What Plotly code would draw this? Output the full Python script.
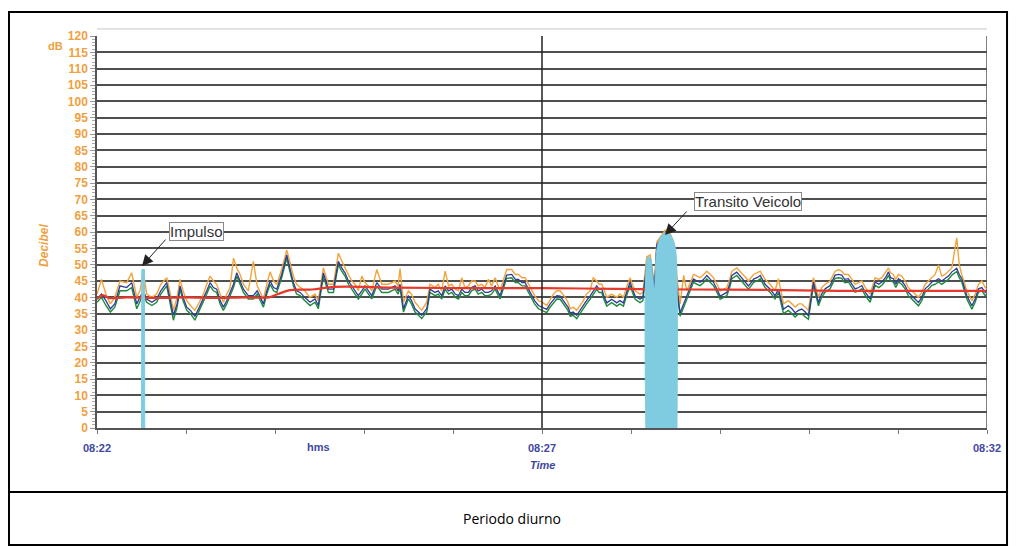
import plotly.graph_objects as go

# ---------------- data (seconds after 08:22:00) ----------------
T = [0,3,6,9,12,15.5,20,23.4,26.8,29,
     31.2,33.5,37,40.2,43,47,49,51.5,54,56,
     58,60.5,63,66,69,71.7,74,76.2,78.5,80.7,
     83,85.2,87.5,89.7,92,94.2,96.5,98.7,102,105.4,
     108,112.2,114.5,116.7,119,121.2,124.5,127.9,130,132.4,
     134.5,136.9,140,143.6,147,149.2,152.6,156,159.4,162.7,
     165,167.2,169.5,171.7,174,176.2,178.5,180.7,183,185.2,
     188.6,192,196.4,200.9,203,204.3,206.6,209.9,212,214.4,
     218.9,222.3,224.5,227.9,230,232.4,234.7,237,239.2,241.5,
     243.7,245.9,248,250.4,252.5,254.9,257,259.4,261.5,263.9,
     266,268.4,271.7,274,276.2,279.6,282,284.1,286.5,288.6,
     291,293.1,295,297.6,300,303.2,305.5,307.7,310,312.2,
     315.6,317.5,319,321,323.4,325.5,327.9,330,332.4,334.5,
     336.9,338.5,340.3,342,343.7,347,350.4,352.5,354.9,357,
     359.4,361,362.8,366.1,368,370.6,372.9,375.8,377.4,380.7,
     383,385.2,388.6,390.9,393.1,395.5,397.6,400,402.1,404.5,
     406.6,409,411.1,413.5,415.6,418,420.1,422.5,424.6,426.5,
     428,431.3,433.5,435.8,437.5,439.2,441,442.6,445,447.1,
     450.4,453.8,457.1,459.4,462.8,466.1,468.5,470.6,473,475.1,
     477.5,479.6,483,486.4,488.5,490.9,494.2,497.6,500,502.1,
     504,506.6,509,511.1,513.5,515.6,518,521.2,524.6,527,
     529.1,531.5,533.6,535,536.9,538.5,540.3,542.5,544.8,547,
     549.3,551.5,553.8,556,558.3,560.5,562.8,565,567.3,569.5,
     571.8,574,576.3,579.6,581.3,583,586.4,589.8,592,594.3,
     596.5,598.8,600]

BLUE = [39.5,41,39,36.5,38,43.5,43,44.5,38,40,
        42,39.5,38.5,39.5,42,44.5,40,34.5,38,43.5,
        40,37,36,34.2,37,39.5,42,44.5,43,42.5,
        39,37,39,41.5,44,47.5,45,42.5,40.5,40.5,
        42,38,42,45,43,42.5,47,53,49,44.5,
        42,41.5,40,38.5,39.5,37.5,47.5,42.5,42.5,51,
        49,47.5,45,43.5,42,40.5,42,43.5,42,40.5,
        44.5,42.5,42.5,43.5,42,44,36.5,40.5,39,36.5,
        34.5,36.5,42.5,41.5,42,40.5,43.5,42,42.5,41,
        40.5,42.5,41.5,41.5,43,43.5,42,42.5,41.5,41.5,
        42,43.5,40.5,44,46.8,47,45.5,45.5,44.5,44.5,
        42.5,40.5,39,37.5,37,36.3,38,39.4,40.5,40.4,
        38.3,37,35.2,35.5,34.5,36,37.3,39,40.4,42,
        43.5,42.5,42.5,40,38.3,39.4,38.3,39,38.3,41.5,
        44.6,42.5,40.4,39.4,40,50,52,42.5,56,58.5,
        59.5,60,55,43,35.2,38,40.4,43,45.6,45,
        44.6,45.5,46.7,45.5,44.6,42.5,40.4,41,41.5,44,
        46.7,47.7,46.5,45.6,44.5,43.5,44.5,45.6,46,46.7,
        44,42.5,40.5,42.5,36.4,37.4,36.5,35.3,36,36.4,
        35.5,34.3,44.7,38.4,41,42.6,43.6,46.8,47,46.8,
        45.5,45.7,44,42.6,43,43.6,41.5,39.5,44.7,44,
        44.7,46,47.8,46,45.7,44,45.7,45,43.6,41.5,
        40.5,39.5,38.4,40,42.6,43.5,44.7,45,45.7,45,
        45.7,46.5,47.8,48.9,47,45.7,40.5,37.4,39.5,42.6,
        43,41.5,42]

ORANGE = [41,45.5,41,38,40,45,44.5,47.5,40,42,
          48,41,40,41,44,46,42,36,40,45.5,
          42,39,37.5,36,38.5,41,44,46.5,45,44,
          41,38.5,41,43,52,49,47,44,42,51,
          43.5,39.5,44,47.8,45,44,48.5,54.5,51,46.5,
          44,43,42,40,41,39,49,44,44,53.5,
          51,49,47,45,44,42,46.5,44.5,43.5,42,
          48.5,44,44,45,43.5,48.8,38.5,42,41,38.5,
          36,38.5,44,43,44,42,48,43.5,44,42.5,
          42,46,43,43.5,45,45,43.5,44,43,45.5,
          43.5,46,42,45.5,48.5,48.5,47,47,46,46,
          44,42,40.5,39,38.5,37.5,39.5,41,42,42,
          40,38.5,36.5,37,36,37.5,39,41,42,46,
          45,44,44,42,40,41,40,41,40,43,
          46,44,42,41,41.5,52.4,53,44,57,59,
          60.5,61,57,46.7,38,46.7,42,44.5,47,46.5,
          46,47,48,47,46,44,42,42.5,43,45.5,
          48,49,48,47,46,45,46,47,47.5,48,
          45.5,44,42,45.7,38,39,38,37,38,38,
          37,36,46,40,43,44,45,48,48.5,48,
          47,47,45.5,44,44.5,45,43,41,46,45.5,
          46,47.5,49,47.5,47,45.5,47,46.5,45,43,
          42,41,40,41.5,44,45,46,47,49.9,46.5,
          47,48,49,58.2,50,47,42,39,41,44,
          45,43,43]

GREEN = [38.5,40,37.5,35.5,37,42,42,43,36.5,39,
         41,38.5,37.5,38.5,41,43.5,39,33,37,42.5,
         39,36,35,33,36,38.5,41,43.5,42,41.5,
         38,36,38,40.5,43,46.5,44,41.5,39.5,39.5,
         41,37,41,44,42,41.5,46,52,48,43.5,
         41,40.5,39,37.5,38.5,36.5,46.5,41.5,41.5,50,
         48,46.5,44,42.5,41,39.5,41,42.5,41,39.5,
         43.5,41.5,41.5,42.5,41,43,35.5,39.5,38,35.5,
         33.5,35.5,41.5,40.5,41,39.5,42.5,41,41.5,40,
         39.5,41.5,40.5,40.5,42,42.5,41,41.5,40.5,40.5,
         41,42.5,39.5,43,45.8,46,44.5,44.5,43.5,43.5,
         41.5,39.5,38,36.5,36,35.3,37,38.4,39.5,39.4,
         37.3,36,34.2,34.5,33.5,35,36.3,38,39.4,41,
         42.5,41.5,41.5,39,37.3,38.4,37.3,38,37.3,40.5,
         43.6,41.5,39.4,38.4,39,49,51,41.5,55,57.5,
         58.5,59,54,42,34.2,37,39.4,42,44.6,44,
         43.6,44.5,45.7,44.5,43.6,41.5,39.4,40,40.5,43,
         45.7,46.7,45.5,44.6,43.5,42.5,43.5,44.6,45,45.7,
         43,41.5,39.5,41.5,35,36,35,34,35,35,
         34,33.3,43.7,37.4,40,41.6,42.6,45.8,46,45.8,
         44.5,44.7,43,41.6,42,42.6,40.5,38.5,43.7,43,
         43.7,45,46.8,45,44.7,43,44.7,44,42.6,40.5,
         39.5,38.5,37.4,39,41.6,42.5,43.7,44,44.7,44,
         44.7,45.5,46.8,47.9,46,44.7,39.5,36.4,38.5,41.6,
         42,40.5,41]

RED_T = [0,4,8,20,40,60,80,100,116,122,130,145,160,200,250,300,350,400,450,500,550,600]
RED = [39.5,40.7,39.8,40,39.8,40,39.8,40,40,41,42.2,42.4,43.2,43,42.8,42.8,42.6,42.4,42.3,42,42,42]

IMPULSE_T = [30.0, 30.2, 32.0, 32.2]
IMPULSE_V = [0, 48.5, 48.5, 0]

TRANSIT_T = [370, 370.3, 371.5, 373, 374.5, 375.8, 376.8, 378, 380, 382, 384, 386, 388, 389.5, 390.6, 391]
TRANSIT_V = [0, 50, 52.4, 52, 47, 42.5, 52, 56, 58.5, 59.5, 60, 59.5, 58, 56, 52, 0]

X_TICKS = [0, 60, 120, 180, 240, 300, 360, 420, 480, 540, 600]
X_LABELS = ["08:22", "", "", "", "", "08:27", "", "", "", "", "08:32"]
Y_TICKS = list(range(0, 121, 5))

# ---------------- colours ----------------
C_ORANGE = "#F2A43C"
C_BLUE = "#2E3C98"
C_GREEN = "#1E8B3A"
C_RED = "#E8382C"
C_CYAN = "#7FCCE0"
C_AXIS_Y = "#F0A040"
C_AXIS_X = "#3F47A3"

fig = go.Figure()
fig.add_trace(go.Scatter(x=T, y=ORANGE, mode="lines", line=dict(color=C_ORANGE, width=1.4), hoverinfo="skip"))
fig.add_trace(go.Scatter(x=T, y=GREEN, mode="lines", line=dict(color=C_GREEN, width=1.4), hoverinfo="skip"))
fig.add_trace(go.Scatter(x=T, y=BLUE, mode="lines", line=dict(color=C_BLUE, width=1.3), hoverinfo="skip"))
fig.add_trace(go.Scatter(x=RED_T, y=RED, mode="lines", line=dict(color=C_RED, width=2.2, shape="spline"), hoverinfo="skip"))
fig.add_trace(go.Scatter(x=IMPULSE_T, y=IMPULSE_V, mode="lines", fill="toself", fillcolor=C_CYAN,
                         line=dict(color=C_CYAN, width=1), hoverinfo="skip"))
fig.add_trace(go.Scatter(x=TRANSIT_T, y=TRANSIT_V, mode="lines", fill="toself", fillcolor=C_CYAN,
                         line=dict(color=C_CYAN, width=1, shape="spline"), hoverinfo="skip"))

font_main = "Liberation Sans, Arial, sans-serif"

# the page body has an 8px margin; the figure is sized so the plot area lands where the reference has it
fig.update_layout(
    width=1009, height=538,
    paper_bgcolor="white", plot_bgcolor="white",
    margin=dict(l=89, r=30, t=28, b=118),
    showlegend=False,
    xaxis=dict(range=[0, 600], tickvals=X_TICKS, ticktext=X_LABELS,
               showgrid=False, zeroline=False, showline=True, linecolor="#555", linewidth=1.5,
               ticks="outside", ticklen=4, tickcolor="#777", ticklabelstandoff=5,
               tickfont=dict(family=font_main, size=11, color=C_AXIS_X, weight="bold")),
    yaxis=dict(range=[0, 120], tickvals=Y_TICKS, showgrid=True, gridcolor="#4f4f4f", gridwidth=2,
               zeroline=False, showline=True, linecolor="#555", linewidth=1.5,
               ticks="outside", ticklen=5, tickcolor="#999",
               minor=dict(dtick=1, ticks="outside", ticklen=3, tickcolor="#aaa", showgrid=False),
               tickfont=dict(family=font_main, size=12, color=C_AXIS_Y, weight="bold")),
)

shapes = [
    dict(type="line", xref="x", yref="y", x0=300, x1=300, y0=0, y1=120, line=dict(color="#222", width=1.5)),
    dict(type="line", xref="x", yref="y", x0=600, x1=600, y0=0, y1=120, line=dict(color="#555", width=1.5)),
    dict(type="line", xref="paper", yref="paper", x0=0, x1=1, y0=1.018, y1=1.018, line=dict(color="#c8c8c8", width=1)),
    dict(type="rect", xref="paper", yref="paper", x0=-0.0989, x1=1.0225, y0=-0.2985, y1=1.061,
         line=dict(color="black", width=2)),
    dict(type="line", xref="paper", yref="paper", x0=-0.0989, x1=1.0225, y0=-0.163, y1=-0.163,
         line=dict(color="black", width=2)),
]
fig.update_layout(shapes=shapes)


def px_to_t(px):
    return (px - 97) / 1.4833


def py_to_db(py):
    return (428 - py) / 3.267


ann = [
    dict(text="Decibel", xref="paper", yref="paper", x=-0.0596, y=0.467, showarrow=False, textangle=-90,
         xanchor="center", yanchor="middle",
         font=dict(family=font_main, size=12, color=C_AXIS_Y, weight="bold", style="italic")),
    dict(text="dB", xref="paper", yref="paper", x=-0.047, y=0.975, showarrow=False,
         xanchor="center", yanchor="middle",
         font=dict(family=font_main, size=11, color=C_AXIS_Y, weight="bold")),
    dict(text="hms", xref="x", yref="paper", x=149, y=-0.0485, showarrow=False,
         xanchor="center", yanchor="middle",
         font=dict(family=font_main, size=11, color=C_AXIS_X, weight="bold")),
    dict(text="Time", xref="x", yref="paper", x=300, y=-0.094, showarrow=False,
         xanchor="center", yanchor="middle",
         font=dict(family=font_main, size=11, color=C_AXIS_X, weight="bold", style="italic")),
    dict(text="Periodo diurno", xref="paper", yref="paper", x=0.466, y=-0.232, showarrow=False,
         xanchor="center", yanchor="middle",
         font=dict(family="Open Sans, Noto Sans, sans-serif", size=14, color="black")),
    # Impulso
    dict(text="", x=px_to_t(142), y=py_to_db(266), xref="x", yref="y", showarrow=True, ax=25, ay=-28,
         arrowhead=2, arrowsize=2.2, arrowwidth=1, arrowcolor="#222"),
    dict(text="Impulso", xref="x", yref="y", x=px_to_t(196.5), y=py_to_db(231), showarrow=False,
         xanchor="center", yanchor="middle",
         bgcolor="white", bordercolor="#888", borderwidth=1, borderpad=0,
         font=dict(family=font_main, size=15, color="#333")),
    # Transito Veicolo
    dict(text="", x=px_to_t(665), y=py_to_db(235), xref="x", yref="y", showarrow=True, ax=23, ay=-25,
         arrowhead=2, arrowsize=2.2, arrowwidth=1, arrowcolor="#222"),
    dict(text="Transito Veicolo", xref="x", yref="y", x=px_to_t(747.5), y=py_to_db(201), showarrow=False,
         xanchor="center", yanchor="middle",
         bgcolor="white", bordercolor="#888", borderwidth=1, borderpad=0,
         font=dict(family=font_main, size=15, color="#333")),
]
fig.update_layout(annotations=ann)

fig.write_html("out.html")
